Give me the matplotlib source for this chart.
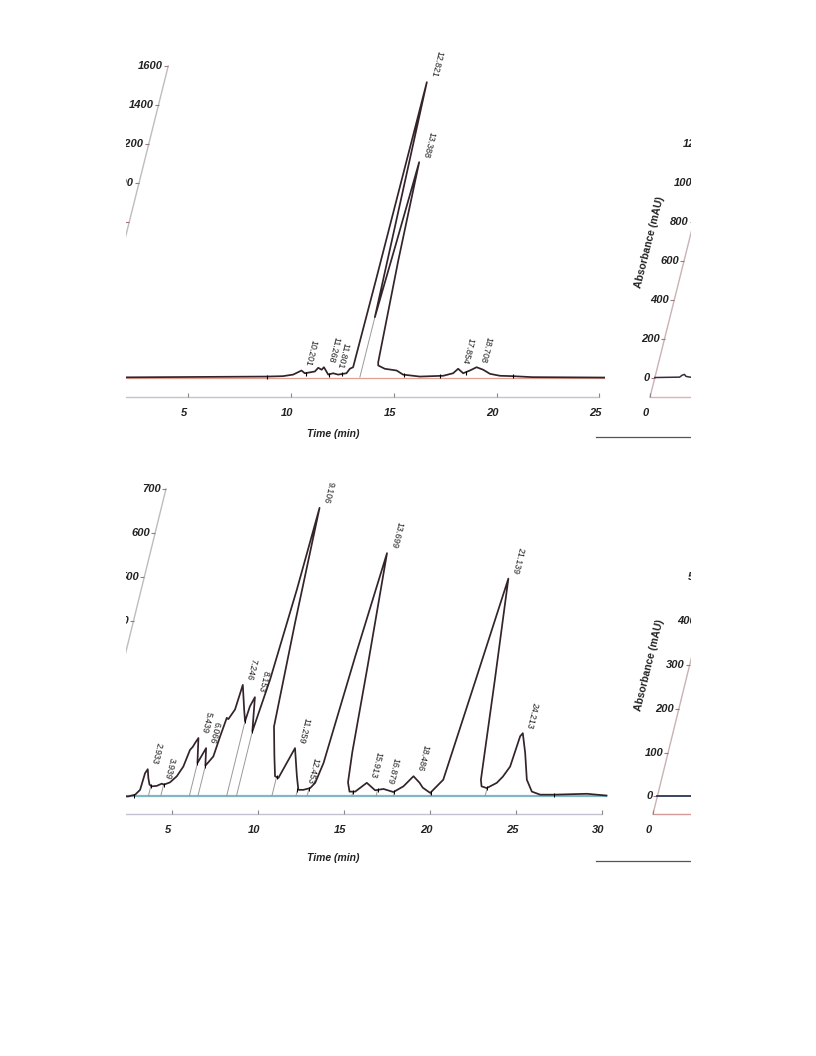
import numpy as np
import matplotlib
matplotlib.use("Agg")
import matplotlib.pyplot as plt
from matplotlib.transforms import Affine2D
from matplotlib.patches import Rectangle
from matplotlib.lines import Line2D

plt.rcParams['font.family'] = ['Liberation Sans', 'DejaVu Sans']

# ---- chromatogram 1 (top) ----
top_time = [0, 8.56, 9.35, 9.83, 10.19, 10.38, 10.85, 10.97, 11.16, 11.24,
            11.54, 11.76, 12.02, 12.41, 12.52, 12.66, 12.71, 12.75, 12.78, 12.95,
            13.11, 13.25, 13.38, 13.56, 13.82, 13.86, 14.22, 14.82, 15.18, 16.02,
            17.15, 17.6, 17.79, 18.09, 18.38, 18.67, 19.02, 19.4, 19.91, 20.55,
            21.5, 25]
top_abs = [0, 5, 7, 15, 36, 22, 31, 50, 40, 53,
           15, 22, 15, 22, 45, 53, 500, 1100, 1517, 910,
           310, 700, 1106, 601, 79, 62, 45, 36, 15, 5,
           9, 22, 45, 22, 36, 53, 40, 19, 9, 7,
           2, 0]
top_peak_rt = ['10.201', '11.268', '11.801', '12.821', '13.388', '17.854', '18.708']
top_peak_t = [10.19, 11.24, 11.76, 12.78, 13.38, 17.79, 18.67]
top_peak_h = [36, 53, 22, 1517, 1106, 45, 53]
top_drop_t = [13.11]
top_drop_h = [310]
top_mark_t = [8.56, 10.43, 11.59, 12.21, 15.21, 16.99, 18.21, 20.56]
top_mark_h = [5, 20, 12, 16, 14, 8, 22, 7]
top_xticks = [0, 5, 10, 15, 20, 25]
top_yticks = [0, 200, 400, 600, 800, 1000, 1200, 1400, 1600]

# neighbouring chromatogram, mostly cut off at the right
top_side_time = [0, 1.2, 1.3, 1.4, 1.5, 1.7, 25]
top_side_abs = [0, 2, 12, 16, 6, 2, 0]
side_xticks = [0]

# ---- chromatogram 2 (bottom) ----
bot_time = [0, 2.2, 2.58, 2.8, 2.85, 2.95, 3.11, 3.27, 3.42, 3.71,
            3.97, 4.12, 4.43, 4.74, 4.98, 5.13, 5.25, 5.33, 5.45, 5.75,
            6.04, 6.25, 6.58, 6.69, 6.81, 6.92, 7.17, 7.27, 7.7, 7.92,
            7.99, 8.15, 8.49, 8.78, 9.05, 9.2, 9.42, 9.68, 10.13, 10.45,
            10.67, 11.21, 11.72, 12.0, 12.29, 12.66, 12.88, 13.08, 13.4, 13.77,
            14.26, 14.6, 14.78, 15.0, 15.33, 15.88, 16.47, 16.94, 17.56, 18.06,
            18.5, 18.95, 19.2, 19.71, 20.28, 20.74, 21.19, 21.85, 22.47, 22.6,
            22.93, 23.44, 23.7, 23.98, 24.13, 24.24, 24.66, 25.14, 25.6, 26.13,
            26.9, 28.83, 30]
bot_abs = [0, 0, 4, 15, 53, 62, 42, 27, 23, 24,
           29, 27, 32, 46, 68, 106, 113, 122, 133, 76,
           110, 70, 91, 137, 179, 176, 198, 254, 198, 171,
           205, 226, 148, 266, 471, 657, 395, 159, 91, 46,
           42, 110, 46, 15, 15, 19, 31, 76, 319, 554,
           296, 100, 32, 11, 11, 31, 14, 17, 10, 23,
           46, 31, 20, 8, 38, 266, 496, 266, 38, 23,
           19, 31, 45, 68, 137, 144, 99, 38, 11, 4,
           4, 6, 2]
bot_peak_rt = ['2.933', '3.939', '5.439', '6.066', '7.246', '8.153', '9.106', '11.259',
               '12.453', '13.699', '15.913', '16.879', '18.486', '21.139', '24.213']
bot_peak_t = [2.95, 3.93, 5.45, 6.04, 7.27, 8.15, 9.2, 11.21,
              12.3, 13.77, 15.88, 16.94, 18.5, 21.19, 24.24]
bot_peak_h = [62, 29, 133, 110, 254, 226, 657, 110,
              17, 554, 31, 17, 46, 496, 144]
bot_drop_t = [3.37, 4.09, 5.75, 6.25, 7.92, 8.49, 10.55, 11.95, 12.6, 15.2, 16.61, 17.62, 19.75, 22.95]
bot_drop_h = [24, 27, 76, 70, 171, 148, 44, 15, 18, 11, 14, 10, 8, 19]
bot_mark_t = [2.5, 26.92]
bot_mark_h = [2, 4]
bot_xticks = [0, 5, 10, 15, 20, 25, 30]
bot_yticks = [0, 100, 200, 300, 400, 500, 600, 700]

bot_side_time = [0, 30]
bot_side_abs = [0, 0]

W, H = 816, 1056
fig = plt.figure(figsize=(W / 100, H / 100), dpi=100)
fig.patch.set_facecolor('white')

TXT = dict(fontsize=8, fontweight='bold', style='italic', color='#222222')


def shear(s, yp):
    # the scanned page is slanted: x moves right as y goes up
    return Affine2D(np.array([[1.0, s, -s * yp], [0.0, 1.0, 0.0], [0.0, 0.0, 1.0]]))


def make_ax(x0, y_spine, px_per_min, px_per_unit, xlim, ylim):
    w = (xlim[1] - xlim[0]) * px_per_min
    h = (ylim[1] - ylim[0]) * px_per_unit
    ax = fig.add_axes([x0 / W, (H - y_spine) / H, w / W, h / H])
    ax.set_xlim(*xlim)
    ax.set_ylim(*ylim)
    ax.set_axis_off()
    return ax


def frame(ax, s, yp, xticks, yticks, axis_col, spine_col, xlabel=None, xlab_off=37):
    T = ax.transData + shear(s, yp)
    off = lambda dx, dy: ax.transData + Affine2D().translate(dx, dy) + shear(s, yp)
    x0, x1 = ax.get_xlim()
    y0, y1 = ax.get_ylim()
    ax.plot([x0, x1], [y0, y0], color=spine_col, lw=1.0, transform=T, clip_on=False)
    ax.plot([x0, x0], [y0, y1], color=axis_col, lw=1.0, transform=T, clip_on=False)
    ax.plot(xticks, [y0] * len(xticks), ls='none', marker=2, ms=3, mew=0.8,
            color='#888888', transform=T, clip_on=False)
    ax.plot([x0] * len(yticks), yticks, ls='none', marker=0, ms=3, mew=0.8,
            color='#a07878', transform=T, clip_on=False)
    for v in yticks:
        ax.text(x0, v, str(v), transform=off(-5, 0), ha='right', va='center', **TXT)
    for v in xticks:
        ax.text(v, y0, str(v), transform=off(0, -16), ha='center', va='center', **TXT)
    if xlabel:
        ax.text((x0 + x1) / 2, y0, xlabel, transform=off(0, -xlab_off),
                ha='center', va='center', fontsize=7.5, fontweight='bold',
                style='italic', color='#222222')
    return T, off


def peaks(ax, off, s, labels, pt, ph):
    rot = np.degrees(np.arctan2(-1.0, -s))
    for lab, t, h in zip(labels, pt, ph):
        ax.text(t, h, lab, transform=off(0, 6), rotation=rot, rotation_mode='anchor',
                ha='right', va='bottom', fontsize=6.3, color='#1e1e1e')


trace_col = '#33232b'

# ----- top row -----
s1, yp1 = 0.25, H - 397
ax1 = make_ax(85.5, 397, 20.55, 0.1947, (0, 25), (-100, 1600))
T1, off1 = frame(ax1, s1, yp1, top_xticks, top_yticks, '#bdbdbd', '#c2c2d0', 'Time (min)', 37)
ax1.plot([0, 25], [0, 0], color='#8fc0cc', lw=0.9, transform=T1, clip_on=False, zorder=2)
ax1.plot([0, 25], [-4, -4], color='#e3a08e', lw=0.7, transform=T1, clip_on=False, zorder=2)
ax1.vlines(top_drop_t, 0, top_drop_h, color='#9a9a9a', lw=0.7, transform=T1, clip_on=False)
ax1.plot(top_time, top_abs, color=trace_col, lw=1.25, transform=T1, clip_on=False, zorder=3)
ax1.plot(top_mark_t, top_mark_h, ls='none', marker='|', ms=3.5, mew=0.8, color='k',
         transform=T1, clip_on=False, zorder=4)
peaks(ax1, off1, s1, top_peak_rt, top_peak_t, top_peak_h)

ax1r = make_ax(650, 397, 20.55, 0.1947, (0, 25), (-100, 1600))
T1r, off1r = frame(ax1r, s1, yp1, side_xticks, top_yticks, '#c9b2b2', '#dcb4b4')
ax1r.plot(top_side_time, top_side_abs, color='#3a2a40', lw=1.1, transform=T1r, clip_on=False, zorder=3)
ax1r.text(-1.93, 696, 'Absorbance (mAU)', transform=T1r, rotation=np.degrees(np.arctan2(1, s1)),
          ha='center', va='center', fontsize=7.5, fontweight='bold', color='#222222')

# ----- bottom row -----
s2, yp2 = 0.246, H - 814
ax2 = make_ax(86, 814, 17.2, 0.4392, (0, 30), (-40, 700))
T2, off2 = frame(ax2, s2, yp2, bot_xticks, bot_yticks, '#bdbdbd', '#c2c2d0', 'Time (min)', 44)
ax2.plot([0, 30], [0, 0], color='#80b7c3', lw=1.6, transform=T2, clip_on=False, zorder=2)
ax2.vlines(bot_drop_t, 0, bot_drop_h, color='#9a9a9a', lw=0.7, transform=T2, clip_on=False)
ax2.plot(bot_time, bot_abs, color=trace_col, lw=1.25, transform=T2, clip_on=False, zorder=3)
ax2.plot(bot_drop_t + bot_mark_t, bot_drop_h + bot_mark_h, ls='none', marker='|', ms=3,
         mew=0.7, color='k', transform=T2, clip_on=False, zorder=4)
peaks(ax2, off2, s2, bot_peak_rt, bot_peak_t, bot_peak_h)

ax2r = make_ax(653, 814, 17.2, 0.4392, (0, 30), (-40, 700))
T2r, off2r = frame(ax2r, s2, yp2, side_xticks, bot_yticks, '#c9b2b2', '#d49a9a')
ax2r.plot(bot_side_time, bot_side_abs, color='#2c3652', lw=1.3, transform=T2r, clip_on=False, zorder=3)
ax2r.text(-2.37, 299, 'Absorbance (mAU)', transform=T2r, rotation=np.degrees(np.arctan2(1, s2)),
          ha='center', va='center', fontsize=7.5, fontweight='bold', color='#222222')

# short rules under the cut-off panels
for yy in (437, 861):
    fig.add_artist(Line2D([596 / W, 690.5 / W], [1 - yy / H] * 2, color='#555555', lw=0.9, zorder=40))

# page crop on both sides
fig.add_artist(Rectangle((0, 0), 125.5 / W, 1, transform=fig.transFigure,
                         facecolor='white', edgecolor='none', zorder=50))
fig.add_artist(Rectangle((690.5 / W, 0), 1 - 690.5 / W, 1, transform=fig.transFigure,
                         facecolor='white', edgecolor='none', zorder=50))

fig.savefig('out.png', dpi=100, facecolor='white')
